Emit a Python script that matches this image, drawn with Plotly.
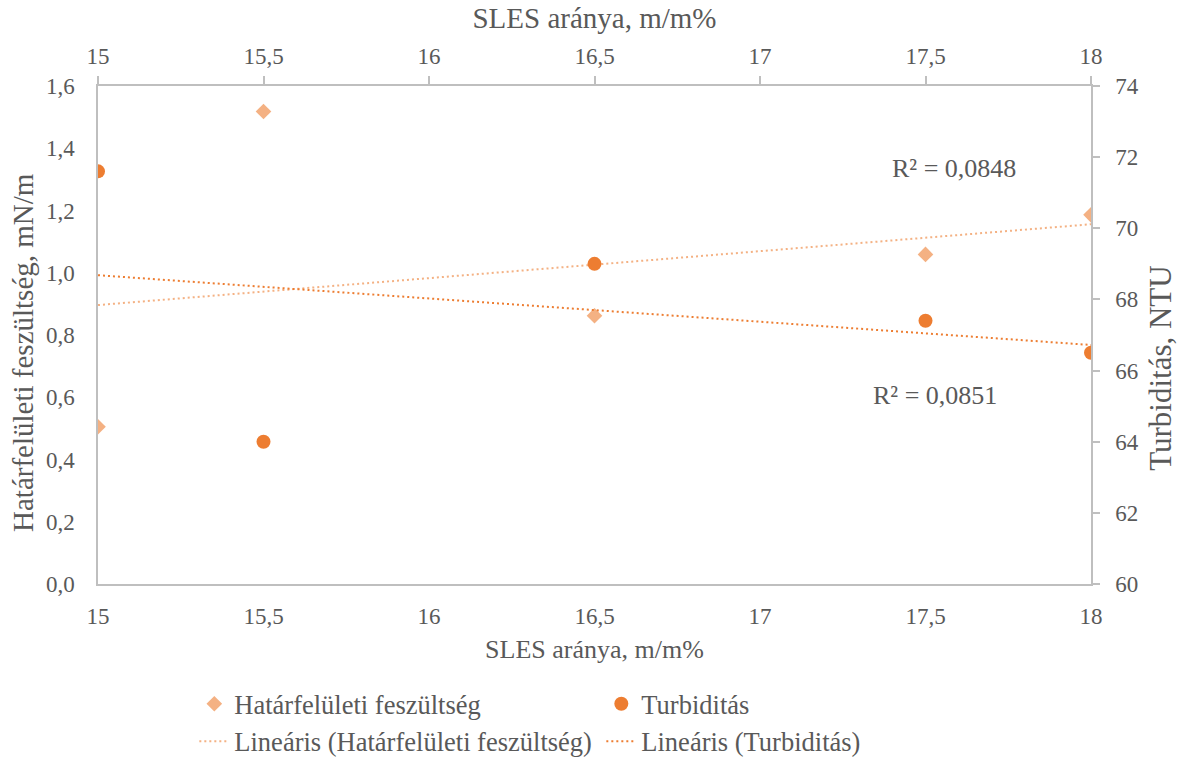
import numpy as np
import plotly.graph_objects as go

# SLES content (m/m%)
sles = [15, 15.5, 16.5, 17.5, 18]
# Interfacial tension (mN/m) – left axis
hatarfeluleti = [0.505, 1.518, 0.862, 1.059, 1.186]
# Turbidity (NTU) – right axis
turbiditas = [71.6, 64.0, 69.0, 67.4, 66.5]

x_ticks = [15, 15.5, 16, 16.5, 17, 17.5, 18]
y_left_ticks = [0, 0.2, 0.4, 0.6, 0.8, 1.0, 1.2, 1.4, 1.6]
y_right_ticks = [60, 62, 64, 66, 68, 70, 72, 74]

r2_labels = ["R² = 0,0848", "R² = 0,0851"]

C_LIGHT = "#F4B183"
C_DARK = "#ED7D31"
GREY_TXT = "#595959"
GREY_LINE = "#BFBFBF"
FONT = "Liberation Serif, Times New Roman, serif"

# linear trendlines (least squares)
x_arr = np.array(sles, dtype=float)
x_fit = np.array([min(sles), max(sles)], dtype=float)
k1, b1 = np.polyfit(x_arr, np.array(hatarfeluleti), 1)
k2, b2 = np.polyfit(x_arr, np.array(turbiditas), 1)

fig = go.Figure()

fig.add_trace(go.Scatter(
    x=sles, y=hatarfeluleti, mode="markers", name="Határfelületi feszültség",
    marker=dict(symbol="diamond", size=12, color=C_LIGHT),
    xaxis="x", yaxis="y",
))
fig.add_trace(go.Scatter(
    x=sles, y=turbiditas, mode="markers", name="Turbiditás",
    marker=dict(symbol="circle", size=14, color=C_DARK),
    xaxis="x", yaxis="y2",
))
fig.add_trace(go.Scatter(
    x=x_fit, y=k1 * x_fit + b1, mode="lines",
    name="Lineáris (Határfelületi feszültség)",
    line=dict(color=C_LIGHT, width=2, dash="2px,3px"),
    xaxis="x", yaxis="y",
))
fig.add_trace(go.Scatter(
    x=x_fit, y=k2 * x_fit + b2, mode="lines",
    name="Lineáris (Turbiditás)",
    line=dict(color=C_DARK, width=2, dash="2px,3px"),
    xaxis="x", yaxis="y2",
))
# carrier for the top axis
fig.add_trace(go.Scatter(
    x=sles, y=hatarfeluleti, mode="markers", marker=dict(opacity=0),
    xaxis="x2", yaxis="y", showlegend=False, hoverinfo="skip",
))

tick_font = dict(family=FONT, size=23, color=GREY_TXT)

fig.update_layout(
    width=1179, height=760,
    margin=dict(l=98, r=88, t=86, b=176, autoexpand=False),
    paper_bgcolor="white", plot_bgcolor="white",
    separators=", ",
    font=dict(family=FONT, color=GREY_TXT, size=24),
    showlegend=True,
    xaxis=dict(
        range=[15, 18], tickvals=x_ticks, showgrid=False, zeroline=False,
        automargin=False,
        showline=True, linecolor=GREY_LINE, linewidth=1.5,
        ticks="", tickfont=tick_font, ticklabelstandoff=11,
        title=dict(text="SLES aránya, m/m%", font=dict(family=FONT, size=26, color=GREY_TXT), standoff=11),
        anchor="y",
    ),
    xaxis2=dict(
        range=[15, 18], tickvals=x_ticks, showgrid=False, zeroline=False,
        automargin=False,
        overlaying="x", side="top", anchor="y",
        showline=True, linecolor=GREY_LINE, linewidth=1.5,
        ticks="outside", ticklen=8, tickcolor=GREY_LINE, tickwidth=1.5,
        tickfont=tick_font, ticklabelstandoff=3,
        title=dict(text="SLES aránya, m/m%", font=dict(family=FONT, size=29, color=GREY_TXT), standoff=7),
    ),
    yaxis=dict(
        range=[0, 1.6], tickvals=y_left_ticks, tickformat=".1f",
        showgrid=False, zeroline=False, automargin=False,
        showline=True, linecolor=GREY_LINE, linewidth=1.5,
        ticks="", tickfont=tick_font, ticklabelstandoff=17,
        anchor="x",
    ),
    yaxis2=dict(
        range=[60, 74], tickvals=y_right_ticks, showgrid=False, zeroline=False,
        automargin=False,
        overlaying="y", side="right", anchor="x",
        showline=True, linecolor=GREY_LINE, linewidth=1.5,
        # long invisible major ticks set the label gap; the short visible
        # tick marks are drawn as minor ticks at the same values
        ticks="outside", ticklen=18, tickcolor="rgba(0,0,0,0)",
        minor=dict(ticks="outside", ticklen=7, tickcolor=GREY_LINE, tickwidth=1.5,
                   tickvals=y_right_ticks, showgrid=False),
        tickfont=tick_font,
    ),
    legend=dict(
        orientation="h", x=0.097, xanchor="left",
        yref="container", y=0.1053, yanchor="top",
        entrywidth=362, entrywidthmode="pixels",
        font=dict(family=FONT, size=26.5, color=GREY_TXT),
        bgcolor="rgba(0,0,0,0)",
    ),
    annotations=[
        dict(x=17.586, y=1.336, xref="x", yref="y", text=r2_labels[0], showarrow=False,
             font=dict(family=FONT, size=26, color=GREY_TXT)),
        dict(x=17.53, y=0.607, xref="x", yref="y", text=r2_labels[1], showarrow=False,
             font=dict(family=FONT, size=26, color=GREY_TXT)),
        # vertical axis titles
        dict(x=-0.0755, y=0.464, xref="paper", yref="paper", xanchor="center", yanchor="middle",
             text="Határfelületi feszültség, mN/m", textangle=-90, showarrow=False,
             font=dict(family=FONT, size=29, color=GREY_TXT)),
        dict(x=1.0705, y=0.434, xref="paper", yref="paper", xanchor="center", yanchor="middle",
             text="Turbiditás, NTU", textangle=-90, showarrow=False,
             font=dict(family=FONT, size=31, color=GREY_TXT)),
    ],
)

fig.write_html("out.html")
